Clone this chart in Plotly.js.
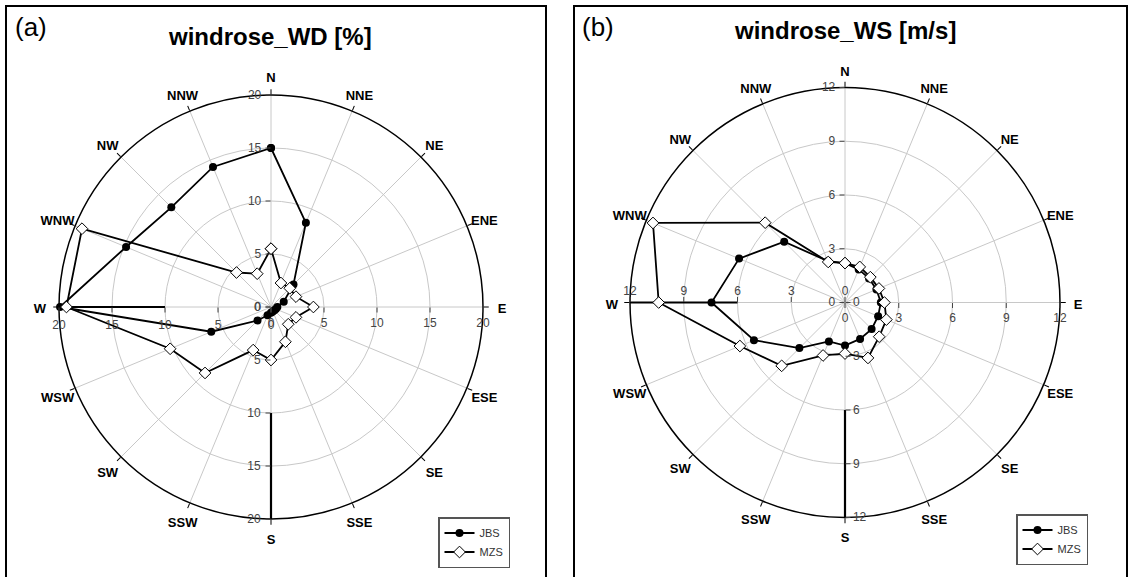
<!DOCTYPE html>
<html>
<head>
<meta charset="utf-8">
<script src="https://cdn.plot.ly/plotly-3.0.1.min.js"></script>
<style>
  html, body { margin: 0; padding: 0; background: #fff; }
  #chart { width: 1132px; height: 577px; }
</style>
</head>
<body>
<div id="chart"></div>
<script>
// ---- data ----
const dirs = ['N','NNE','NE','ENE','E','ESE','SE','SSE','S','SSW','SW','WSW','W','WNW','NW','NNW'];
// wind direction frequency [%]
const wdJBS = [15.0, 8.6, 3.0, 1.3, 0.6, 0.5, 0.45, 0.45, 0.55, 0.85, 1.8, 6.1, 19.9, 14.8, 13.3, 14.3];
const wdMZS = [5.5, 2.45, 2.5, 2.55, 4.0, 2.55, 2.3, 3.55, 5.0, 4.4, 8.8, 10.3, 19.3, 19.3, 4.6, 3.4];
// wind speed [m/s]
const wsJBS = [2.2, 2.0, 1.9, 1.9, 2.0, 2.0, 2.1, 2.2, 2.4, 2.35, 3.6, 5.5, 7.45, 6.4, 4.8, 2.5];
const wsMZS = [2.2, 2.15, 2.0, 2.05, 2.2, 2.5, 2.7, 3.35, 2.85, 3.2, 5.0, 6.35, 10.4, 11.6, 6.3, 2.45];
const wdTicks = [0, 5, 10, 15, 20];
const wsTicks = [0, 3, 6, 9, 12];
const wdSegW = [10, 20], wdSegS = [10, 20];
const wsSegW = [6, 12], wsSegS = [6, 12];
const seriesNames = ['JBS', 'MZS'];
const titles = ['windrose_WD [%]', 'windrose_WS [m/s]'];
const panelTags = ['(a)', '(b)'];

// ---- helpers ----
const W = 1132, H = 577;
const px = v => v / W;
const py = v => 1 - v / H;
const FONT = 'Liberation Sans, Arial, sans-serif';
const close = a => a.concat([a[0]]);

// square domain around a pixel centre
const dom = (cx, cy, r) => ({x: [px(cx - r), px(cx + r)], y: [py(cy + r), py(cy - r)]});

const A = {cx: 271, cy: 307, r: 212, lab: 231, labDy: 3};
const B = {cx: 845, cy: 302.5, r: 215, lab: 233, labDy: 3};

function polarMain(d, rmax, ticks, side) {
  return {
    domain: d,
    bgcolor: 'rgba(0,0,0,0)',
    angularaxis: {
      type: 'category', categoryarray: dirs, direction: 'clockwise', rotation: 90,
      showline: true, linecolor: '#000', linewidth: 1.5,
      ticks: 'outside', ticklen: 5, tickcolor: '#000', tickwidth: 1,
      showticklabels: false,
      showgrid: true, gridcolor: '#c8c8c8', gridwidth: 1
    },
    radialaxis: {
      range: [0, rmax], tickvals: ticks, angle: 90, tickangle: 90, side: side,
      showline: false, ticks: 'outside', ticklen: 5, tickcolor: '#444',
      tickfont: {family: FONT, size: 12, color: '#444'},
      showgrid: true, gridcolor: '#c8c8c8', gridwidth: 1
    }
  };
}
function polarOver(d, rmax, ticks, angle, tickangle, side) {
  return {
    domain: d,
    bgcolor: 'rgba(0,0,0,0)',
    angularaxis: {
      type: 'category', categoryarray: dirs, direction: 'clockwise', rotation: 90,
      showline: false, showgrid: false, ticks: '', showticklabels: false
    },
    radialaxis: {
      range: [0, rmax], tickvals: ticks, angle: angle, tickangle: tickangle, side: side,
      showline: false, showgrid: false, ticks: 'outside', ticklen: 5, tickcolor: '#444',
      tickfont: {family: FONT, size: 12, color: '#444'}
    }
  };
}
function polarLabels(d) {
  return {
    domain: d,
    bgcolor: 'rgba(0,0,0,0)',
    angularaxis: {
      type: 'category', categoryarray: dirs, direction: 'clockwise', rotation: 90,
      showline: false, showgrid: false, ticks: '', showticklabels: false
    },
    radialaxis: {range: [0, 1.02], visible: false, showgrid: false, showline: false, showticklabels: false, ticks: ''}
  };
}

function seriesTraces(sub, leg, jbs, mzs) {
  return [
    {type: 'scatterpolar', subplot: sub, legend: leg, name: seriesNames[0],
     r: close(jbs), theta: close(dirs), mode: 'lines+markers',
     line: {color: '#000', width: 1.8},
     marker: {symbol: 'circle', size: 8, color: '#000'}},
    {type: 'scatterpolar', subplot: sub, legend: leg, name: seriesNames[1],
     r: close(mzs), theta: close(dirs), mode: 'lines+markers',
     line: {color: '#000', width: 1.8},
     marker: {symbol: 'diamond', size: 9, color: '#fff', line: {color: '#000', width: 1}}}
  ];
}
function segTrace(sub, r, th) {
  return {type: 'scatterpolar', subplot: sub, r: r, theta: [th, th], mode: 'lines',
          line: {color: '#000', width: 2.2}, showlegend: false, hoverinfo: 'skip'};
}
function dummy(sub, ticks) {
  return {type: 'scatterpolar', subplot: sub, r: [ticks[0]], theta: [dirs[0]], mode: 'markers',
          marker: {opacity: 0}, showlegend: false, hoverinfo: 'skip'};
}
function dirLabels(sub) {
  return {type: 'scatterpolar', subplot: sub, r: dirs.map(() => 1), theta: dirs,
          mode: 'text', text: dirs, textposition: 'middle center', cliponaxis: false,
          textfont: {family: FONT, size: 13, weight: 'bold', color: '#000'},
          showlegend: false, hoverinfo: 'skip'};
}

const data = [
  dummy('polar2', wdTicks), dummy('polar3', wdTicks), dummy('polar4', wdTicks),
  dummy('polar6', wsTicks), dummy('polar7', wsTicks), dummy('polar8', wsTicks),
  dirLabels('polar9'), dirLabels('polar10'),
  segTrace('polar', wdSegW, 'W'), segTrace('polar', wdSegS, 'S'),
  ...seriesTraces('polar', 'legend', wdJBS, wdMZS),
  segTrace('polar5', wsSegW, 'W'), segTrace('polar5', wsSegS, 'S'),
  ...seriesTraces('polar5', 'legend2', wsJBS, wsMZS)
];

const legendStyle = (x, y) => ({
  x: px(x), y: py(y), xanchor: 'left', yanchor: 'top',
  bgcolor: '#fff', bordercolor: '#555', borderwidth: 1.5,
  font: {family: FONT, size: 11, color: '#333'}
});

const dA = dom(A.cx, A.cy, A.r), dB = dom(B.cx, B.cy, B.r);
const layout = {
  width: W, height: H,
  margin: {l: 0, r: 0, t: 0, b: 0},
  paper_bgcolor: '#fff',
  showlegend: true,
  polar: polarMain(dA, 20, wdTicks, 'counterclockwise'),
  polar2: polarOver(dA, 20, wdTicks, 0, 0, 'clockwise'),
  polar3: polarOver(dA, 20, wdTicks, 270, -90, 'clockwise'),
  polar4: polarOver(dA, 20, wdTicks, 180, 180, 'counterclockwise'),
  polar5: polarMain(dB, 12, wsTicks, 'counterclockwise'),
  polar6: polarOver(dB, 12, wsTicks, 0, 0, 'clockwise'),
  polar7: polarOver(dB, 12, wsTicks, 270, -90, 'counterclockwise'),
  polar8: polarOver(dB, 12, wsTicks, 180, 180, 'clockwise'),
  polar9: polarLabels(dom(A.cx, A.cy + A.labDy, A.lab * 1.02)),
  polar10: polarLabels(dom(B.cx, B.cy + B.labDy, B.lab * 1.02)),
  legend: legendStyle(438, 517),
  legend2: legendStyle(1016, 514),
  shapes: [
    {type: 'rect', xref: 'paper', yref: 'paper', x0: px(6), x1: px(546), y0: -0.1, y1: py(6),
     line: {color: '#000', width: 2}},
    {type: 'rect', xref: 'paper', yref: 'paper', x0: px(574), x1: px(1127), y0: -0.1, y1: py(6),
     line: {color: '#000', width: 2}}
  ],
  annotations: [
    {text: panelTags[0], xref: 'paper', yref: 'paper', x: px(13), y: py(27), xanchor: 'left', yanchor: 'middle',
     showarrow: false, font: {family: FONT, size: 26, color: '#000'}},
    {text: panelTags[1], xref: 'paper', yref: 'paper', x: px(580), y: py(27), xanchor: 'left', yanchor: 'middle',
     showarrow: false, font: {family: FONT, size: 26, color: '#000'}},
    {text: titles[0], xref: 'paper', yref: 'paper', x: px(270), y: py(36), xanchor: 'center', yanchor: 'middle',
     showarrow: false, font: {family: FONT, size: 24, weight: 'bold', color: '#000'}},
    {text: titles[1], xref: 'paper', yref: 'paper', x: px(845), y: py(31), xanchor: 'center', yanchor: 'middle',
     showarrow: false, font: {family: FONT, size: 24, weight: 'bold', color: '#000'}}
  ]
};

Plotly.newPlot('chart', data, layout, {displayModeBar: false, staticPlot: true});
</script>
</body>
</html>
